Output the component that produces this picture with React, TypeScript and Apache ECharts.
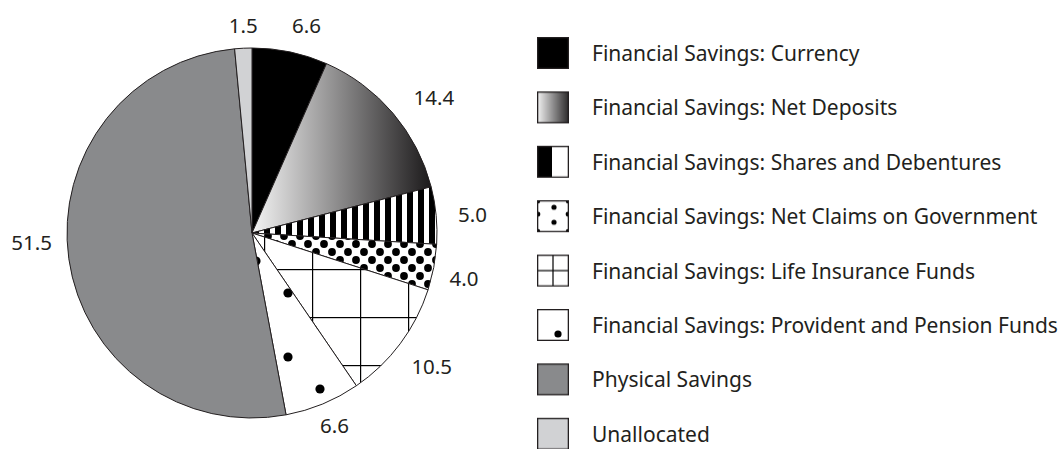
import { useEffect, useRef } from 'react';
import * as echarts from 'echarts';

const categories = [
  'Financial Savings: Currency',
  'Financial Savings: Net Deposits',
  'Financial Savings: Shares and Debentures',
  'Financial Savings: Net Claims on Government',
  'Financial Savings: Life Insurance Funds',
  'Financial Savings: Provident and Pension Funds',
  'Physical Savings',
  'Unallocated',
];
const shares = [6.6, 14.4, 5.0, 4.0, 10.5, 6.6, 51.5, 1.5];
// small pixel nudges of the value labels relative to ECharts' outside placement
const labelNudges = [
  [-6, -13], [5, -7], [3, 0], [-3, 8], [-5, 14], [-13, 8], [2, -19], [20, -9],
];

const INK = '#231f20';
const FONT = '"Noto Sans", sans-serif';

function makeCanvas(w: number, h: number, draw: (ctx: CanvasRenderingContext2D) => void) {
  const c = document.createElement('canvas');
  c.width = w;
  c.height = h;
  const ctx = c.getContext('2d') as CanvasRenderingContext2D;
  draw(ctx);
  return c;
}

function dot(ctx: CanvasRenderingContext2D, x: number, y: number, r: number) {
  ctx.beginPath();
  ctx.arc(x, y, r, 0, Math.PI * 2);
  ctx.fill();
}

function buildFills() {
  const stripes = makeCanvas(11, 4, (ctx) => {
    ctx.fillStyle = '#fff';
    ctx.fillRect(0, 0, 11, 4);
    ctx.fillStyle = '#000';
    ctx.fillRect(0, 0, 6, 4);
  });
  const dots = makeCanvas(16, 16, (ctx) => {
    ctx.fillStyle = '#fff';
    ctx.fillRect(0, 0, 16, 16);
    ctx.fillStyle = '#000';
    dot(ctx, 4, 4, 3.9);
    dot(ctx, 12, 12, 3.9);
  });
  const grid = makeCanvas(48, 48, (ctx) => {
    ctx.fillStyle = '#fff';
    ctx.fillRect(0, 0, 48, 48);
    ctx.fillStyle = '#000';
    ctx.fillRect(24, 0, 1.2, 48);
    ctx.fillRect(0, 29, 48, 1.2);
  });
  const sparse = makeCanvas(64, 64, (ctx) => {
    ctx.fillStyle = '#fff';
    ctx.fillRect(0, 0, 64, 64);
    ctx.fillStyle = '#000';
    dot(ctx, 32, 37, 4.6);
    dot(ctx, 0, 5, 4.6);
    dot(ctx, 64, 5, 4.6);
    dot(ctx, 0, 69, 4.6);
    dot(ctx, 64, 69, 4.6);
  });
  return [
    '#000000',
    new echarts.graphic.LinearGradient(0, 0, 1, 0, [
      { offset: 0, color: '#f4f4f4' },
      { offset: 1, color: '#1c1a1b' },
    ]),
    { image: stripes, repeat: 'repeat', imageWidth: 11, imageHeight: 4 },
    { image: dots, repeat: 'repeat', imageWidth: 16, imageHeight: 16 },
    { image: grid, repeat: 'repeat', imageWidth: 48, imageHeight: 48 },
    { image: sparse, repeat: 'repeat', imageWidth: 64, imageHeight: 64 },
    '#898a8c',
    '#d1d2d4',
  ];
}

function buildIcons() {
  const S = 32;
  const icon = (paint: (ctx: CanvasRenderingContext2D) => void) =>
    'image://' +
    makeCanvas(50, S, (ctx) => {
      ctx.save();
      ctx.beginPath();
      ctx.rect(0, 0, S, S);
      ctx.clip();
      paint(ctx);
      ctx.restore();
      ctx.strokeStyle = INK;
      ctx.lineWidth = 1.3;
      ctx.strokeRect(0.65, 0.65, S - 1.3, S - 1.3);
    }).toDataURL();
  return [
    icon((ctx) => {
      ctx.fillStyle = '#000';
      ctx.fillRect(0, 0, S, S);
    }),
    icon((ctx) => {
      const g = ctx.createLinearGradient(0, 0, S, 0);
      g.addColorStop(0, '#f4f4f4');
      g.addColorStop(1, '#2a2829');
      ctx.fillStyle = g;
      ctx.fillRect(0, 0, S, S);
    }),
    icon((ctx) => {
      ctx.fillStyle = '#fff';
      ctx.fillRect(0, 0, S, S);
      ctx.fillStyle = '#000';
      ctx.fillRect(0, 0, 15, S);
    }),
    icon((ctx) => {
      ctx.fillStyle = '#fff';
      ctx.fillRect(0, 0, S, S);
      ctx.fillStyle = '#000';
      dot(ctx, 17, 7, 2.6);
      dot(ctx, 17, 22, 2.6);
      dot(ctx, 1, 14, 2.4);
      dot(ctx, 31, 14, 2.4);
      dot(ctx, 1, 1, 2.2);
      dot(ctx, 31, 1, 2.2);
      dot(ctx, 1, 31, 2.2);
      dot(ctx, 31, 31, 2.2);
    }),
    icon((ctx) => {
      ctx.fillStyle = '#fff';
      ctx.fillRect(0, 0, S, S);
      ctx.fillStyle = '#000';
      ctx.fillRect(15.4, 0, 1.2, S);
      ctx.fillRect(0, 15.4, S, 1.2);
    }),
    icon((ctx) => {
      ctx.fillStyle = '#fff';
      ctx.fillRect(0, 0, S, S);
      ctx.fillStyle = '#000';
      dot(ctx, 21, 25, 3.6);
    }),
    icon((ctx) => {
      ctx.fillStyle = '#898a8c';
      ctx.fillRect(0, 0, S, S);
    }),
    icon((ctx) => {
      ctx.fillStyle = '#d1d2d4';
      ctx.fillRect(0, 0, S, S);
    }),
  ];
}

export default function App() {
  const ref = useRef<HTMLDivElement>(null);

  useEffect(() => {
    if (!ref.current) return;
    const chart = echarts.init(ref.current, null, { renderer: 'svg' });
    const fills = buildFills();
    const icons = buildIcons();

    chart.setOption({
      animation: false,
      backgroundColor: '#ffffff',
      legend: {
        orient: 'vertical',
        left: 537,
        top: 37,
        height: 700,
        padding: 0,
        itemWidth: 50,
        itemHeight: 32,
        itemGap: 22.4,
        selectedMode: false,
        textStyle: { color: INK, fontSize: 21, fontFamily: FONT },
        data: categories.map((name, i) => ({ name, icon: icons[i] })),
      },
      series: [
        {
          type: 'pie',
          center: [252, 233],
          radius: 185,
          startAngle: 90,
          clockwise: true,
          avoidLabelOverlap: false,
          emphasis: { disabled: true },
          itemStyle: { borderColor: INK, borderWidth: 1 },
          label: {
            show: true,
            position: 'outside',
            color: INK,
            fontSize: 20.5,
            fontFamily: FONT,
            formatter: (p: any) => Number(p.value).toFixed(1),
          },
          labelLine: { show: false, length: 14, length2: 0 },
          labelLayout: (p: any) => {
            const r = p.labelRect;
            const [dx, dy] = labelNudges[p.dataIndex];
            return {
              x: r.x + r.width / 2 + dx,
              y: r.y + r.height / 2 + dy,
              align: 'center',
              verticalAlign: 'middle',
            };
          },
          data: shares.map((value, i) => ({
            value,
            name: categories[i],
            itemStyle: { color: fills[i] },
          })),
        },
      ],
    });

    return () => chart.dispose();
  }, []);

  return (
    <div
      ref={ref}
      style={{ position: 'fixed', left: 0, top: 0, width: 1063, height: 449 }}
    />
  );
}
